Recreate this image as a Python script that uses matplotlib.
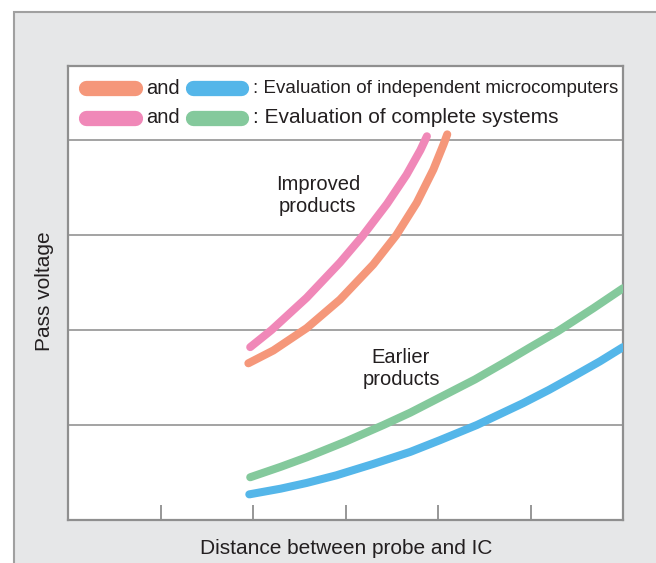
# -*- coding: utf-8 -*-
import matplotlib
matplotlib.use("Agg")
import matplotlib.pyplot as plt
from matplotlib.patches import Rectangle

plt.rcParams['font.family'] = ['Liberation Sans', 'DejaVu Sans']

# Curves (x: 0-6 distance units, y: grid units)
orange_x = [1.95, 2.22, 2.58, 2.94, 3.30, 3.55, 3.77, 3.95, 4.06, 4.10]
orange_y = [1.65, 1.785, 2.02, 2.32, 2.69, 3.0, 3.34, 3.69, 3.955, 4.06]
pink_x = [1.97, 2.20, 2.58, 2.94, 3.18, 3.45, 3.66, 3.81, 3.88]
pink_y = [1.82, 2.0, 2.34, 2.71, 2.985, 3.33, 3.635, 3.895, 4.04]
green_x = [1.97, 2.3, 2.58, 3.0, 3.41, 3.7, 4.02, 4.4, 4.74, 5.0, 5.30, 5.68, 6.0]
green_y = [0.45, 0.56, 0.66, 0.825, 1.0, 1.13, 1.29, 1.48, 1.67, 1.82, 1.99, 2.23, 2.44]
blue_x = [1.96, 2.3, 2.58, 2.9, 3.3, 3.7, 4.02, 4.42, 4.92, 5.2, 5.46, 5.75, 6.0]
blue_y = [0.27, 0.33, 0.39, 0.47, 0.59, 0.717, 0.84, 1.0, 1.23, 1.37, 1.51, 1.67, 1.82]

series = [
    (orange_x, orange_y, "#f5977a"),
    (pink_x, pink_y, "#f088b8"),
    (green_x, green_y, "#84c99c"),
    (blue_x, blue_y, "#54b6e9"),
]

legend_rows = [
    ("#f5977a", "#54b6e9", ": Evaluation of independent microcomputers"),
    ("#f088b8", "#84c99c", ": Evaluation of complete systems"),
]

grid_levels = [1, 2, 3, 4]
x_ticks = [1, 2, 3, 4, 5]

txt_col = "#231f20"

fig = plt.figure(figsize=(6.56, 5.63), dpi=100)
fig.patch.set_facecolor("white")

# gray panel behind the chart
fig.patches.append(Rectangle((14 / 656, -0.02), 1.0, 0.978 + 0.02, transform=fig.transFigure,
                             facecolor="#e6e7e8", edgecolor="#a0a0a0", linewidth=1.5, zorder=-5))

ax = fig.add_axes([68 / 656, 43 / 563, 555 / 656, 454 / 563])
ax.set_zorder(2)
ax.set_facecolor("white")
ax.set_xlim(0, 6)
ax.set_ylim(0, 4.78)

for lv in grid_levels:
    ax.axhline(lv, color="#9c9c9c", linewidth=1.3, zorder=1)

for xs, ys, col in series:
    ax.plot(xs, ys, color=col, linewidth=5.8, solid_capstyle="round",
            solid_joinstyle="round", zorder=3)

for sp in ax.spines.values():
    sp.set_color("#8f8f8f")
    sp.set_linewidth(1.6)

ax.set_xticks(x_ticks)
ax.set_xticklabels([])
ax.set_yticks([])
ax.tick_params(axis="x", direction="in", length=11, width=1.3, color="#8f8f8f")

# legend box at the top of the axes
row_y = [0.9515, 0.8855]
sizes = [13.5, 15]
for (c1, c2, label), ry, fs in zip(legend_rows, row_y, sizes):
    ax.plot([0.032, 0.121], [ry, ry], transform=ax.transAxes, color=c1, linewidth=11,
            solid_capstyle="round", clip_on=False)
    ax.plot([0.226, 0.311], [ry, ry], transform=ax.transAxes, color=c2, linewidth=11,
            solid_capstyle="round", clip_on=False)
    ax.text(0.1415, ry, "and", transform=ax.transAxes, fontsize=14.5,
            color=txt_col, va="center", ha="left")
    ax.text(0.334, ry, label, transform=ax.transAxes, fontsize=fs,
            color=txt_col, va="center", ha="left")

ax.text(2.70, 3.42, "Improved\nproducts", fontsize=14.5, color=txt_col, ha="center", va="center")
ax.text(3.60, 1.60, "Earlier\nproducts", fontsize=14.5, color=txt_col, ha="center", va="center")

fig.text(346 / 656, 1 - 548 / 563, "Distance between probe and IC", fontsize=15,
         color=txt_col, ha="center", va="center")
fig.text(45 / 656, 1 - 291 / 563, "Pass voltage", fontsize=15, rotation=90,
         color=txt_col, ha="center", va="center")

fig.savefig("out.png", dpi=100)
